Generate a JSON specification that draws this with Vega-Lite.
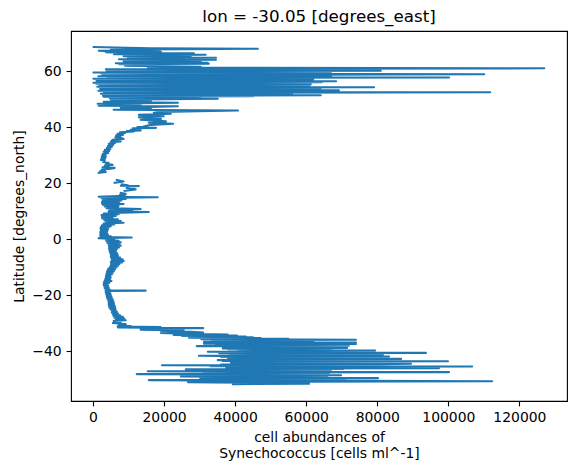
{
  "$schema": "https://vega.github.io/schema/vega-lite/v6.json",
  "width": 496,
  "height": 370,
  "autosize": "none",
  "padding": {"left": 71, "top": 31, "right": 8, "bottom": 73},
  "background": "white",
  "title": {
    "text": "lon = -30.05 [degrees_east]",
    "font": "DejaVu Sans",
    "fontSize": 16.7,
    "fontWeight": "normal",
    "color": "black",
    "anchor": "middle",
    "frame": "group",
    "baseline": "alphabetic",
    "offset": 8.3,
    "dy": 16
  },
  "data": {
    "values": [
      {"lat": -51.68, "v": 39400, "s": 1}, {"lat": -51.55, "v": 60800, "s": 1}, {"lat": -51.4, "v": 41600, "s": 1},
      {"lat": -51.25, "v": 58000, "s": 1}, {"lat": -51.1, "v": 34000, "s": 1}, {"lat": -50.96, "v": 26700, "s": 1},
      {"lat": -50.82, "v": 58500, "s": 1}, {"lat": -50.68, "v": 112300, "s": 1}, {"lat": -50.52, "v": 73700, "s": 1},
      {"lat": -50.38, "v": 30500, "s": 1}, {"lat": -50.25, "v": 15700, "s": 1}, {"lat": -50.1, "v": 64100, "s": 1},
      {"lat": -49.96, "v": 38000, "s": 1}, {"lat": -49.82, "v": 71000, "s": 1}, {"lat": -49.68, "v": 30200, "s": 1},
      {"lat": -49.54, "v": 80200, "s": 1}, {"lat": -49.4, "v": 36000, "s": 1}, {"lat": -49.25, "v": 66000, "s": 1},
      {"lat": -49.1, "v": 47200, "s": 1}, {"lat": -48.96, "v": 24700, "s": 1}, {"lat": -48.82, "v": 62000, "s": 1},
      {"lat": -48.68, "v": 33500, "s": 1}, {"lat": -48.54, "v": 69800, "s": 1}, {"lat": -48.4, "v": 28000, "s": 1},
      {"lat": -48.25, "v": 60500, "s": 1}, {"lat": -48.11, "v": 12300, "s": 1}, {"lat": -47.96, "v": 58500, "s": 1},
      {"lat": -47.82, "v": 36800, "s": 1}, {"lat": -47.68, "v": 66500, "s": 1}, {"lat": -47.54, "v": 31000, "s": 1},
      {"lat": -47.39, "v": 100200, "s": 1}, {"lat": -47.25, "v": 40500, "s": 1}, {"lat": -47.1, "v": 15400, "s": 1},
      {"lat": -46.96, "v": 63000, "s": 1}, {"lat": -46.82, "v": 35000, "s": 1}, {"lat": -46.68, "v": 67000, "s": 1},
      {"lat": -46.54, "v": 38500, "s": 1}, {"lat": -46.4, "v": 26100, "s": 1}, {"lat": -46.25, "v": 70500, "s": 1},
      {"lat": -46.1, "v": 41000, "s": 1}, {"lat": -45.96, "v": 97400, "s": 1}, {"lat": -45.82, "v": 37500, "s": 1},
      {"lat": -45.68, "v": 65000, "s": 1}, {"lat": -45.54, "v": 41600, "s": 1}, {"lat": -45.39, "v": 106700, "s": 1},
      {"lat": -45.25, "v": 33000, "s": 1}, {"lat": -45.1, "v": 71000, "s": 1}, {"lat": -44.96, "v": 19400, "s": 1},
      {"lat": -44.82, "v": 64500, "s": 1}, {"lat": -44.68, "v": 36000, "s": 1}, {"lat": -44.54, "v": 81000, "s": 1},
      {"lat": -44.39, "v": 89500, "s": 1}, {"lat": -44.25, "v": 40000, "s": 1}, {"lat": -44.11, "v": 68000, "s": 1},
      {"lat": -43.96, "v": 38800, "s": 1}, {"lat": -43.82, "v": 72000, "s": 1}, {"lat": -43.68, "v": 42000, "s": 1},
      {"lat": -43.54, "v": 99900, "s": 1}, {"lat": -43.39, "v": 36500, "s": 1}, {"lat": -43.25, "v": 64000, "s": 1},
      {"lat": -43.11, "v": 35100, "s": 1}, {"lat": -42.96, "v": 75400, "s": 1}, {"lat": -42.82, "v": 41000, "s": 1},
      {"lat": -42.68, "v": 86700, "s": 1}, {"lat": -42.54, "v": 38000, "s": 1}, {"lat": -42.39, "v": 67500, "s": 1},
      {"lat": -42.25, "v": 41600, "s": 1}, {"lat": -42.11, "v": 70000, "s": 1}, {"lat": -41.96, "v": 36000, "s": 1},
      {"lat": -41.82, "v": 83300, "s": 1}, {"lat": -41.68, "v": 40500, "s": 1}, {"lat": -41.54, "v": 29800, "s": 1},
      {"lat": -41.39, "v": 67000, "s": 1}, {"lat": -41.25, "v": 38500, "s": 1}, {"lat": -41.11, "v": 81600, "s": 1},
      {"lat": -40.96, "v": 44400, "s": 1}, {"lat": -40.82, "v": 69000, "s": 1}, {"lat": -40.68, "v": 35500, "s": 1},
      {"lat": -40.54, "v": 93700, "s": 1}, {"lat": -40.39, "v": 39000, "s": 1}, {"lat": -40.25, "v": 66000, "s": 1},
      {"lat": -40.11, "v": 32300, "s": 1}, {"lat": -39.96, "v": 67000, "s": 1}, {"lat": -39.82, "v": 41000, "s": 1},
      {"lat": -39.68, "v": 79400, "s": 1}, {"lat": -39.54, "v": 43900, "s": 1}, {"lat": -39.39, "v": 63000, "s": 1},
      {"lat": -39.25, "v": 38000, "s": 1}, {"lat": -39.11, "v": 67000, "s": 1}, {"lat": -38.96, "v": 36500, "s": 1},
      {"lat": -38.82, "v": 71500, "s": 1}, {"lat": -38.68, "v": 40000, "s": 1}, {"lat": -38.54, "v": 58500, "s": 1},
      {"lat": -38.39, "v": 36500, "s": 1}, {"lat": -38.25, "v": 62000, "s": 1}, {"lat": -38.11, "v": 29200, "s": 1},
      {"lat": -37.96, "v": 72000, "s": 1}, {"lat": -37.82, "v": 34600, "s": 1}, {"lat": -37.68, "v": 58500, "s": 1},
      {"lat": -37.54, "v": 40000, "s": 1}, {"lat": -37.39, "v": 74000, "s": 1}, {"lat": -37.25, "v": 31200, "s": 1},
      {"lat": -37.1, "v": 60000, "s": 1}, {"lat": -36.96, "v": 37000, "s": 1}, {"lat": -36.82, "v": 74000, "s": 1},
      {"lat": -36.68, "v": 47200, "s": 1}, {"lat": -36.54, "v": 31200, "s": 1}, {"lat": -36.39, "v": 62000, "s": 1},
      {"lat": -36.25, "v": 35000, "s": 1}, {"lat": -36.11, "v": 50100, "s": 1}, {"lat": -35.96, "v": 33500, "s": 1},
      {"lat": -35.82, "v": 74000, "s": 1}, {"lat": -35.68, "v": 30500, "s": 1}, {"lat": -35.54, "v": 55000, "s": 1},
      {"lat": -35.39, "v": 31000, "s": 1}, {"lat": -35.25, "v": 47200, "s": 1}, {"lat": -35.1, "v": 27000, "s": 1},
      {"lat": -34.96, "v": 45000, "s": 1}, {"lat": -34.82, "v": 31200, "s": 1}, {"lat": -34.68, "v": 43000, "s": 1},
      {"lat": -34.54, "v": 25000, "s": 1}, {"lat": -34.39, "v": 40500, "s": 1}, {"lat": -34.18, "v": 22700, "s": 1},
      {"lat": -33.96, "v": 37900, "s": 1}, {"lat": -33.75, "v": 27500, "s": 1}, {"lat": -33.46, "v": 19100, "s": 1},
      {"lat": -33.25, "v": 31000, "s": 1}, {"lat": -33.0, "v": 27500, "s": 1}, {"lat": -32.75, "v": 19100, "s": 1},
      {"lat": -32.5, "v": 25500, "s": 1}, {"lat": -32.25, "v": 13400, "s": 1}, {"lat": -32.0, "v": 19100, "s": 1},
      {"lat": -31.85, "v": 13400, "s": 1}, {"lat": -31.7, "v": 31000, "s": 1}, {"lat": -31.5, "v": 7000, "s": 1},
      {"lat": -31.32, "v": 19000, "s": 1}, {"lat": -31.15, "v": 6900, "s": 1}, {"lat": -30.96, "v": 10600, "s": 1},
      {"lat": -30.61, "v": 7200, "s": 1}, {"lat": -30.25, "v": 9200, "s": 1}, {"lat": -29.89, "v": 5600, "s": 1},
      {"lat": -29.54, "v": 7800, "s": 1}, {"lat": -29.18, "v": 5800, "s": 1},
      {"lat": -28.9, "v": 9200, "s": 1}, {"lat": -28.6, "v": 6400, "s": 1}, {"lat": -28.3, "v": 8800, "s": 1},
      {"lat": -28.0, "v": 6000, "s": 1}, {"lat": -27.7, "v": 8400, "s": 1}, {"lat": -27.4, "v": 5800, "s": 1},
      {"lat": -27.1, "v": 7600, "s": 1}, {"lat": -26.8, "v": 5600, "s": 1}, {"lat": -26.5, "v": 7000, "s": 1},
      {"lat": -26.2, "v": 5300, "s": 1}, {"lat": -25.9, "v": 6700, "s": 1}, {"lat": -25.6, "v": 5300, "s": 1},
      {"lat": -25.3, "v": 6400, "s": 1}, {"lat": -25.0, "v": 4900, "s": 1}, {"lat": -24.7, "v": 6300, "s": 1},
      {"lat": -24.4, "v": 4600, "s": 1}, {"lat": -24.1, "v": 6200, "s": 1}, {"lat": -23.8, "v": 4500, "s": 1},
      {"lat": -23.5, "v": 6000, "s": 1}, {"lat": -23.2, "v": 4400, "s": 1}, {"lat": -22.9, "v": 5900, "s": 1},
      {"lat": -22.6, "v": 4400, "s": 1}, {"lat": -22.3, "v": 5800, "s": 1}, {"lat": -22.0, "v": 4300, "s": 1},
      {"lat": -21.7, "v": 5600, "s": 1}, {"lat": -21.4, "v": 4100, "s": 1}, {"lat": -21.1, "v": 5400, "s": 1},
      {"lat": -20.8, "v": 3900, "s": 1}, {"lat": -20.5, "v": 5200, "s": 1}, {"lat": -20.2, "v": 3800, "s": 1},
      {"lat": -19.9, "v": 5000, "s": 1}, {"lat": -19.6, "v": 3700, "s": 1}, {"lat": -19.3, "v": 4900, "s": 1},
      {"lat": -19.0, "v": 3600, "s": 1}, {"lat": -18.7, "v": 4600, "s": 1}, {"lat": -18.46, "v": 3500, "s": 1},
      {"lat": -18.32, "v": 14800, "s": 1}, {"lat": -18.18, "v": 3700, "s": 1}, {"lat": -17.9, "v": 4700, "s": 1},
      {"lat": -17.6, "v": 3300, "s": 1}, {"lat": -17.3, "v": 4400, "s": 1}, {"lat": -17.0, "v": 3200, "s": 1},
      {"lat": -16.7, "v": 4300, "s": 1}, {"lat": -16.4, "v": 3000, "s": 1}, {"lat": -16.1, "v": 4100, "s": 1},
      {"lat": -15.8, "v": 3000, "s": 1}, {"lat": -15.5, "v": 4600, "s": 1}, {"lat": -15.2, "v": 3100, "s": 1},
      {"lat": -14.9, "v": 5200, "s": 1}, {"lat": -14.6, "v": 3300, "s": 1}, {"lat": -14.3, "v": 4800, "s": 1},
      {"lat": -14.0, "v": 3500, "s": 1}, {"lat": -13.7, "v": 5000, "s": 1}, {"lat": -13.4, "v": 3600, "s": 1},
      {"lat": -13.1, "v": 4900, "s": 1}, {"lat": -12.8, "v": 3700, "s": 1}, {"lat": -12.5, "v": 5300, "s": 1},
      {"lat": -12.2, "v": 3800, "s": 1}, {"lat": -11.9, "v": 5600, "s": 1}, {"lat": -11.6, "v": 3900, "s": 1},
      {"lat": -11.3, "v": 5900, "s": 1}, {"lat": -11.0, "v": 4100, "s": 1}, {"lat": -10.7, "v": 6200, "s": 1},
      {"lat": -10.4, "v": 4300, "s": 1}, {"lat": -10.1, "v": 6600, "s": 1}, {"lat": -9.8, "v": 4800, "s": 1},
      {"lat": -9.5, "v": 7000, "s": 1}, {"lat": -9.2, "v": 5000, "s": 1}, {"lat": -8.9, "v": 7400, "s": 1},
      {"lat": -8.6, "v": 5100, "s": 1}, {"lat": -8.3, "v": 8200, "s": 1}, {"lat": -8.0, "v": 5000, "s": 1},
      {"lat": -7.7, "v": 8600, "s": 1}, {"lat": -7.4, "v": 5300, "s": 1}, {"lat": -7.1, "v": 8300, "s": 1},
      {"lat": -6.8, "v": 5200, "s": 1}, {"lat": -6.5, "v": 7600, "s": 1}, {"lat": -6.2, "v": 5000, "s": 1},
      {"lat": -5.9, "v": 7000, "s": 1}, {"lat": -5.6, "v": 5000, "s": 1}, {"lat": -5.3, "v": 6900, "s": 1},
      {"lat": -5.0, "v": 4900, "s": 1}, {"lat": -4.7, "v": 6600, "s": 1}, {"lat": -4.4, "v": 4700, "s": 1},
      {"lat": -4.1, "v": 6500, "s": 1}, {"lat": -3.8, "v": 4600, "s": 1}, {"lat": -3.5, "v": 6700, "s": 1},
      {"lat": -3.2, "v": 4500, "s": 1}, {"lat": -2.9, "v": 7300, "s": 1}, {"lat": -2.6, "v": 4500, "s": 1},
      {"lat": -2.3, "v": 7800, "s": 1}, {"lat": -2.0, "v": 4400, "s": 1}, {"lat": -1.7, "v": 7500, "s": 1},
      {"lat": -1.4, "v": 4100, "s": 1}, {"lat": -1.1, "v": 7800, "s": 1}, {"lat": -0.8, "v": 3800, "s": 1},
      {"lat": -0.5, "v": 7200, "s": 1}, {"lat": -0.2, "v": 3600, "s": 1}, {"lat": 0.1, "v": 6000, "s": 1},
      {"lat": 0.4, "v": 1600, "s": 1}, {"lat": 0.6, "v": 10900, "s": 1}, {"lat": 0.8, "v": 2200, "s": 1},
      {"lat": 1.1, "v": 5000, "s": 1}, {"lat": 1.4, "v": 2000, "s": 1}, {"lat": 1.7, "v": 4200, "s": 1},
      {"lat": 2.0, "v": 2100, "s": 1}, {"lat": 2.3, "v": 3900, "s": 1}, {"lat": 2.6, "v": 2000, "s": 1},
      {"lat": 2.9, "v": 4000, "s": 1}, {"lat": 3.2, "v": 2200, "s": 1}, {"lat": 3.5, "v": 4200, "s": 1},
      {"lat": 3.8, "v": 2100, "s": 1}, {"lat": 4.1, "v": 4400, "s": 1}, {"lat": 4.4, "v": 2200, "s": 1},
      {"lat": 4.7, "v": 5000, "s": 1}, {"lat": 5.0, "v": 2500, "s": 1}, {"lat": 5.3, "v": 6000, "s": 1},
      {"lat": 5.6, "v": 3000, "s": 1}, {"lat": 5.9, "v": 8600, "s": 1}, {"lat": 6.2, "v": 3600, "s": 1},
      {"lat": 6.5, "v": 7800, "s": 1}, {"lat": 6.8, "v": 3200, "s": 1}, {"lat": 7.1, "v": 7000, "s": 1},
      {"lat": 7.4, "v": 2600, "s": 1}, {"lat": 7.7, "v": 5500, "s": 1}, {"lat": 8.0, "v": 2500, "s": 1},
      {"lat": 8.3, "v": 6400, "s": 1}, {"lat": 8.6, "v": 2400, "s": 1}, {"lat": 8.9, "v": 7200, "s": 1},
      {"lat": 9.2, "v": 3000, "s": 1}, {"lat": 9.5, "v": 8000, "s": 1}, {"lat": 9.75, "v": 15700, "s": 1},
      {"lat": 9.95, "v": 4400, "s": 1}, {"lat": 10.2, "v": 11000, "s": 1}, {"lat": 10.5, "v": 4600, "s": 1},
      {"lat": 10.82, "v": 13400, "s": 1}, {"lat": 11.1, "v": 3800, "s": 1}, {"lat": 11.4, "v": 7000, "s": 1},
      {"lat": 11.7, "v": 3300, "s": 1}, {"lat": 12.0, "v": 7200, "s": 1}, {"lat": 12.3, "v": 2700, "s": 1},
      {"lat": 12.6, "v": 8600, "s": 1}, {"lat": 12.9, "v": 2500, "s": 1}, {"lat": 13.2, "v": 7400, "s": 1},
      {"lat": 13.5, "v": 2600, "s": 1}, {"lat": 13.8, "v": 8000, "s": 1}, {"lat": 14.1, "v": 2700, "s": 1},
      {"lat": 14.4, "v": 9200, "s": 1}, {"lat": 14.7, "v": 2400, "s": 1}, {"lat": 15.0, "v": 18200, "s": 1},
      {"lat": 15.15, "v": 1600, "s": 1}, {"lat": 15.5, "v": 9000, "s": 1}, {"lat": 15.9, "v": 7600, "s": 1},
      {"lat": 16.2, "v": 9200, "s": 1}, {"lat": 16.54, "v": 7800, "s": 1},
      {"lat": 17.25, "v": 8900, "s": 2}, {"lat": 17.79, "v": 12000, "s": 2}, {"lat": 18.32, "v": 9500, "s": 2},
      {"lat": 18.86, "v": 11500, "s": 3}, {"lat": 19.0, "v": 12900, "s": 3}, {"lat": 19.1, "v": 7800, "s": 3},
      {"lat": 19.3, "v": 9800, "s": 3}, {"lat": 19.57, "v": 8100, "s": 3},
      {"lat": 20.11, "v": 6100, "s": 4}, {"lat": 20.64, "v": 8600, "s": 4}, {"lat": 21.18, "v": 6700, "s": 4},
      {"lat": 23.68, "v": 1600, "s": 5}, {"lat": 24.0, "v": 3600, "s": 5}, {"lat": 24.3, "v": 2000, "s": 5},
      {"lat": 24.6, "v": 3300, "s": 5}, {"lat": 24.9, "v": 2500, "s": 5}, {"lat": 25.2, "v": 5000, "s": 5},
      {"lat": 25.46, "v": 6100, "s": 5}, {"lat": 25.7, "v": 2700, "s": 5}, {"lat": 26.0, "v": 4400, "s": 5},
      {"lat": 26.3, "v": 3300, "s": 5}, {"lat": 26.54, "v": 5500, "s": 5}, {"lat": 26.9, "v": 3700, "s": 5},
      {"lat": 27.25, "v": 4400, "s": 5}, {"lat": 27.6, "v": 2800, "s": 5}, {"lat": 28.0, "v": 3300, "s": 5},
      {"lat": 28.32, "v": 2200, "s": 5}, {"lat": 28.7, "v": 3400, "s": 5}, {"lat": 29.0, "v": 2400, "s": 5},
      {"lat": 29.39, "v": 3600, "s": 5}, {"lat": 29.7, "v": 2500, "s": 5}, {"lat": 30.11, "v": 3600, "s": 5},
      {"lat": 30.4, "v": 2700, "s": 5}, {"lat": 30.82, "v": 4300, "s": 5}, {"lat": 31.2, "v": 3000, "s": 5},
      {"lat": 31.5, "v": 4600, "s": 5}, {"lat": 31.89, "v": 3300, "s": 5}, {"lat": 32.2, "v": 4900, "s": 5},
      {"lat": 32.61, "v": 3900, "s": 5}, {"lat": 33.0, "v": 5300, "s": 5}, {"lat": 33.3, "v": 4200, "s": 5},
      {"lat": 33.68, "v": 5700, "s": 5}, {"lat": 34.0, "v": 4400, "s": 5}, {"lat": 34.39, "v": 6200, "s": 5},
      {"lat": 34.6, "v": 4900, "s": 5}, {"lat": 34.86, "v": 7800, "s": 5}, {"lat": 35.1, "v": 5200, "s": 5},
      {"lat": 35.29, "v": 7000, "s": 5}, {"lat": 35.5, "v": 5500, "s": 5}, {"lat": 35.82, "v": 8600, "s": 5},
      {"lat": 36.0, "v": 6600, "s": 5}, {"lat": 36.18, "v": 8000, "s": 5}, {"lat": 36.4, "v": 6300, "s": 5},
      {"lat": 36.71, "v": 7600, "s": 5}, {"lat": 37.0, "v": 6500, "s": 5}, {"lat": 37.25, "v": 8400, "s": 5},
      {"lat": 37.6, "v": 6900, "s": 5}, {"lat": 37.96, "v": 9000, "s": 5}, {"lat": 38.2, "v": 7600, "s": 5},
      {"lat": 38.43, "v": 11500, "s": 5}, {"lat": 38.6, "v": 9500, "s": 5}, {"lat": 38.86, "v": 13400, "s": 5},
      {"lat": 39.1, "v": 10600, "s": 5}, {"lat": 39.39, "v": 13000, "s": 5}, {"lat": 39.6, "v": 11200, "s": 5},
      {"lat": 39.75, "v": 17700, "s": 5}, {"lat": 40.0, "v": 12500, "s": 5}, {"lat": 40.11, "v": 14000, "s": 5},
      {"lat": 40.82, "v": 16300, "s": 5}, {"lat": 41.18, "v": 22500, "s": 5}, {"lat": 41.54, "v": 15700, "s": 5},
      {"lat": 42.07, "v": 20500, "s": 5}, {"lat": 42.61, "v": 13400, "s": 5}, {"lat": 42.96, "v": 19100, "s": 5},
      {"lat": 43.5, "v": 12900, "s": 5}, {"lat": 43.86, "v": 19900, "s": 5}, {"lat": 44.39, "v": 12900, "s": 5},
      {"lat": 44.75, "v": 21900, "s": 5}, {"lat": 45.11, "v": 17100, "s": 5}, {"lat": 45.46, "v": 19100, "s": 5},
      {"lat": 45.93, "v": 40800, "s": 5}, {"lat": 46.18, "v": 5800, "s": 5}, {"lat": 46.54, "v": 16300, "s": 5},
      {"lat": 46.89, "v": 7800, "s": 5}, {"lat": 47.43, "v": 23900, "s": 5}, {"lat": 47.61, "v": 1600, "s": 5},
      {"lat": 47.96, "v": 13400, "s": 5}, {"lat": 48.32, "v": 1300, "s": 5}, {"lat": 48.68, "v": 23900, "s": 5},
      {"lat": 49.04, "v": 3000, "s": 5}, {"lat": 49.39, "v": 16300, "s": 5}, {"lat": 49.75, "v": 5000, "s": 5},
      {"lat": 50.11, "v": 35100, "s": 5}, {"lat": 50.29, "v": 4700, "s": 5}, {"lat": 50.64, "v": 30300, "s": 5},
      {"lat": 50.82, "v": 3000, "s": 5}, {"lat": 51.0, "v": 45100, "s": 5}, {"lat": 51.18, "v": 2800, "s": 5},
      {"lat": 51.36, "v": 64100, "s": 5}, {"lat": 51.54, "v": 4800, "s": 5}, {"lat": 51.71, "v": 56000, "s": 5},
      {"lat": 51.89, "v": 2200, "s": 5}, {"lat": 52.07, "v": 47200, "s": 5}, {"lat": 52.25, "v": 3400, "s": 5},
      {"lat": 52.43, "v": 111800, "s": 5}, {"lat": 52.61, "v": 3000, "s": 5}, {"lat": 52.79, "v": 60200, "s": 5},
      {"lat": 52.96, "v": 1500, "s": 5}, {"lat": 53.14, "v": 69200, "s": 5}, {"lat": 53.32, "v": 4300, "s": 5},
      {"lat": 53.5, "v": 58500, "s": 5}, {"lat": 53.68, "v": 2000, "s": 5}, {"lat": 53.86, "v": 64100, "s": 5},
      {"lat": 54.04, "v": 5600, "s": 5}, {"lat": 54.21, "v": 79100, "s": 5}, {"lat": 54.39, "v": 1200, "s": 5},
      {"lat": 54.57, "v": 61000, "s": 5}, {"lat": 54.75, "v": 3800, "s": 5}, {"lat": 54.93, "v": 55400, "s": 5},
      {"lat": 55.11, "v": 1800, "s": 5}, {"lat": 55.29, "v": 61300, "s": 5}, {"lat": 55.46, "v": 900, "s": 5},
      {"lat": 55.64, "v": 56500, "s": 5}, {"lat": 55.82, "v": 100, "s": 5}, {"lat": 56.0, "v": 64400, "s": 5},
      {"lat": 56.18, "v": 2600, "s": 5}, {"lat": 56.36, "v": 68400, "s": 5}, {"lat": 56.54, "v": 1000, "s": 5},
      {"lat": 56.71, "v": 52900, "s": 5}, {"lat": 56.89, "v": 3200, "s": 5}, {"lat": 57.07, "v": 62000, "s": 5},
      {"lat": 57.25, "v": 100, "s": 5}, {"lat": 57.43, "v": 58500, "s": 5}, {"lat": 57.61, "v": 4200, "s": 5},
      {"lat": 57.71, "v": 100200, "s": 5}, {"lat": 57.96, "v": 44400, "s": 5}, {"lat": 58.14, "v": 1500, "s": 5},
      {"lat": 58.32, "v": 67000, "s": 5}, {"lat": 58.5, "v": 2600, "s": 5}, {"lat": 58.68, "v": 63000, "s": 5},
      {"lat": 58.86, "v": 110100, "s": 5}, {"lat": 59.04, "v": 30300, "s": 5}, {"lat": 59.21, "v": 2200, "s": 5},
      {"lat": 59.39, "v": 58500, "s": 5}, {"lat": 59.5, "v": 100, "s": 5}, {"lat": 59.75, "v": 67000, "s": 5},
      {"lat": 59.93, "v": 3800, "s": 5}, {"lat": 60.11, "v": 81000, "s": 5}, {"lat": 60.29, "v": 6100, "s": 5},
      {"lat": 60.46, "v": 55700, "s": 5}, {"lat": 60.64, "v": 3600, "s": 5}, {"lat": 60.82, "v": 47000, "s": 5},
      {"lat": 61.0, "v": 127000, "s": 5}, {"lat": 61.18, "v": 15400, "s": 5},
      {"lat": 61.54, "v": 30300, "s": 5}, {"lat": 61.89, "v": 9000, "s": 5}, {"lat": 62.25, "v": 16300, "s": 5},
      {"lat": 62.43, "v": 7400, "s": 5}, {"lat": 62.61, "v": 32600, "s": 5}, {"lat": 62.79, "v": 6400, "s": 5},
      {"lat": 62.96, "v": 32300, "s": 5}, {"lat": 63.14, "v": 11200, "s": 5}, {"lat": 63.32, "v": 30300, "s": 5},
      {"lat": 63.5, "v": 8600, "s": 5}, {"lat": 63.68, "v": 29000, "s": 5},
      {"lat": 63.86, "v": 13400, "s": 5}, {"lat": 64.04, "v": 34600, "s": 5}, {"lat": 64.21, "v": 7300, "s": 5},
      {"lat": 64.39, "v": 30800, "s": 5}, {"lat": 64.57, "v": 9800, "s": 5},
      {"lat": 64.75, "v": 34600, "s": 5}, {"lat": 64.93, "v": 10600, "s": 5}, {"lat": 65.11, "v": 27500, "s": 5},
      {"lat": 65.29, "v": 8600, "s": 5}, {"lat": 65.46, "v": 24000, "s": 5}, {"lat": 65.64, "v": 12000, "s": 5},
      {"lat": 65.82, "v": 31700, "s": 5}, {"lat": 66.0, "v": 5900, "s": 5}, {"lat": 66.18, "v": 24200, "s": 5},
      {"lat": 66.36, "v": 28400, "s": 5}, {"lat": 66.54, "v": 7200, "s": 5}, {"lat": 66.71, "v": 3600, "s": 5},
      {"lat": 66.89, "v": 19100, "s": 5}, {"lat": 67.07, "v": 4400, "s": 5},
      {"lat": 67.25, "v": 1600, "s": 5}, {"lat": 67.43, "v": 18500, "s": 5}, {"lat": 67.61, "v": 5000, "s": 5},
      {"lat": 67.96, "v": 46400, "s": 5}, {"lat": 68.14, "v": 16300, "s": 5}, {"lat": 68.57, "v": 200, "s": 5}
    ]
  },
  "mark": {
    "type": "line",
    "color": "#1f77b4",
    "strokeWidth": 2.08,
    "strokeJoin": "round",
    "strokeCap": "square",
    "clip": true
  },
  "encoding": {
    "x": {
      "field": "v",
      "type": "quantitative",
      "scale": {"domain": [-6200, 133400], "nice": false, "zero": false},
      "axis": {
        "values": [0, 20000, 40000, 60000, 80000, 100000, 120000],
        "format": "d",
        "title": ["cell abundances of", "Synechococcus [cells ml^-1]"],
        "titleLineHeight": 16.7
      }
    },
    "y": {
      "field": "lat",
      "type": "quantitative",
      "scale": {"domain": [-57.7, 74.3], "nice": false, "zero": false},
      "axis": {
        "values": [-40, -20, 0, 20, 40, 60],
        "format": "d",
        "title": "Latitude [degrees_north]"
      }
    },
    "detail": {"field": "s", "type": "nominal"},
    "order": {"field": "lat", "type": "quantitative"}
  },
  "config": {
    "font": "DejaVu Sans",
    "view": {"stroke": "black", "strokeWidth": 1.1},
    "axis": {
      "grid": false,
      "domain": false,
      "ticks": true,
      "tickColor": "black",
      "tickWidth": 1.1,
      "tickSize": 4.9,
      "labelFont": "DejaVu Sans",
      "labelFontSize": 13.9,
      "labelColor": "black",
      "labelPadding": 4.9,
      "labelOverlap": false,
      "labelFlush": false,
      "labelBound": false,
      "titleFont": "DejaVu Sans",
      "titleFontSize": 13.9,
      "titleFontWeight": "normal",
      "titleColor": "black",
      "titlePadding": 5.6
    }
  }
}
